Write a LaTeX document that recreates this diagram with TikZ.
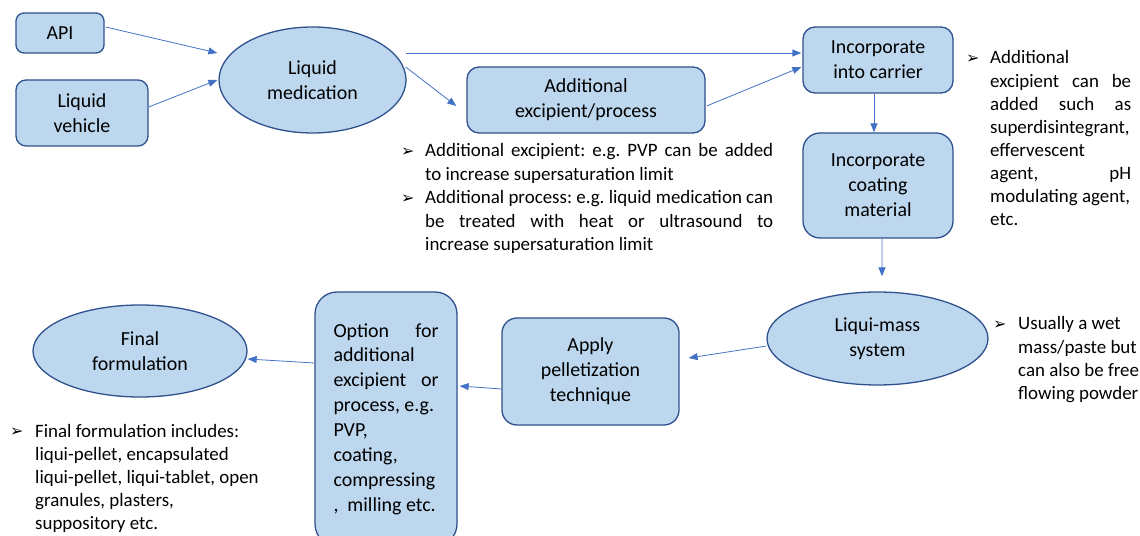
\documentclass[tikz,border=0pt]{standalone}
\usepackage{fontspec}
\setmainfont{Carlito}
\newfontfamily\dejavu{DejaVu Sans}
\usetikzlibrary{shapes.geometric,arrows.meta}
\definecolor{boxfill}{HTML}{BDD7EE}
\definecolor{boxline}{HTML}{2F528F}
\definecolor{arrowcol}{HTML}{4472C4}
\newcommand{\bul}[1]{\makebox[#1][l]{\raisebox{0.5bp}{\fontsize{16}{16}\dejavu ➢}}}
\newcommand{\jl}[2]{\makebox[#1][s]{#2}}
\frenchspacing
\begin{document}
\begin{tikzpicture}[x=1bp,y=-1bp,
  box/.style={draw=boxline, fill=boxfill, line width=1.3bp, align=center, inner sep=0pt, font=\fontsize{20}{25}\selectfont},
  rbox/.style={box, rectangle, rounded corners=#1},
  rbox/.default=10bp,
  oval/.style={box, ellipse},
  arr/.style={draw=arrowcol, line width=0.8bp, -{Triangle[length=9bp,width=7bp]}},
  note/.style={anchor=base west, inner sep=0pt, font=\fontsize{19}{23.1}\selectfont}
]
\useasboundingbox (0,0) rectangle (1140,536);
\clip (0,0) rectangle (1140,536);

% nodes
\node[rbox=8bp, minimum width=88bp, minimum height=40bp] (api) at (60,33) {API};
\node[rbox=10bp, minimum width=132bp, minimum height=66bp] (lv) at (82,113) {Liquid\\vehicle};
\node[oval, minimum width=187bp, minimum height=106bp] (med) at (312.5,80) {Liquid\\medication};
\node[rbox=12bp, minimum width=238bp, minimum height=66bp] (add) at (586,100) {Additional\\excipient/process};
\node[rbox=12bp, minimum width=150bp, minimum height=66bp] (carrier) at (878,60) {Incorporate\\into carrier};
\node[rbox=17bp, minimum width=150bp, minimum height=105bp] (coat) at (878,185.5) {Incorporate\\coating\\material};
\node[oval, minimum width=221bp, minimum height=93bp] (mass) at (877.5,338.5) {Liqui-mass\\system};
\node[rbox=15bp, minimum width=177bp, minimum height=107bp] (apply) at (590.5,371.5) {Apply\\pelletization\\technique};
\node[rbox=22bp, minimum width=142bp, minimum height=254bp] (opt) at (386,419)
  {\parbox{105bp}{\jl{105bp}{Option for}\\ additional\\ \jl{105bp}{excipient or}\\ process, e.g.\\ PVP,\\ coating,\\ compressing\\ ,~~milling etc.}};
\node[oval, minimum width=214bp, minimum height=92bp] (final) at (140,351) {Final\\formulation};

% notes
\node[note] (n1) at (401,157) {\bul{24bp}\parbox[t]{348bp}{\jl{348bp}{Additional excipient: e.g. PVP can be added}\\ to increase supersaturation limit}};
\node[note] (n2) at (401,204) {\bul{24bp}\parbox[t]{348bp}{\jl{348bp}{Additional process: e.g. liquid medication can}\\ \jl{348bp}{be treated with heat or ultrasound to}\\ increase supersaturation limit}};
\node[note] (n3) at (966,64) {\bul{24bp}\parbox[t]{141bp}{Additional\\ \jl{141bp}{excipient can be}\\ \jl{141bp}{added such as}\\ superdisintegrant,\\ effervescent\\ \jl{141bp}{agent, pH}\\ modulating agent,\\ etc.}};
\node[note] (n4) at (993,330) {\bul{25bp}\parbox[t]{125bp}{Usually a wet\\ mass/paste but\\ can also be free\\ flowing powder}};
\node[note] (n5) at (10,437) {\bul{25bp}\parbox[t]{260bp}{Final formulation includes:\\ liqui-pellet, encapsulated\\ liqui-pellet, liqui-tablet, open\\ granules, plasters,\\ suppository etc.}};

% connectors
\draw[arr] ([shift={(1,-6)}]api.east) -- ([shift={(-1,-27)}]med.west);
\draw[arr] ([shift={(0,-6)}]lv.east) -- ([shift={(-1,0)}]med.west);
\draw[arr] ([shift={(-1,-27)}]med.east) -- ([shift={(-1,-7)}]carrier.west);
\draw[arr] ([shift={(-1,-13)}]med.east) -- ([shift={(-10,6)}]add.west);
\draw[arr] ([shift={(1,6)}]add.east) -- ([shift={(-1,7)}]carrier.west);
\draw[arr] ([shift={(-4,0)}]carrier.south) -- ([shift={(-4,0)}]coat.north);
\draw[arr] ([shift={(4,0)}]coat.south) -- ([shift={(4.5,-15)}]mass.north);
\draw[arr] ([shift={(0,7.5)}]mass.west) -- ([shift={(9,-13.5)}]apply.east);
\draw[arr] ([shift={(0,17.5)}]apply.west) -- ([shift={(2,-33)}]opt.east);
\draw[arr] ([shift={(0,-56)}]opt.west) -- ([shift={(0,8)}]final.east);
\end{tikzpicture}
\end{document}
